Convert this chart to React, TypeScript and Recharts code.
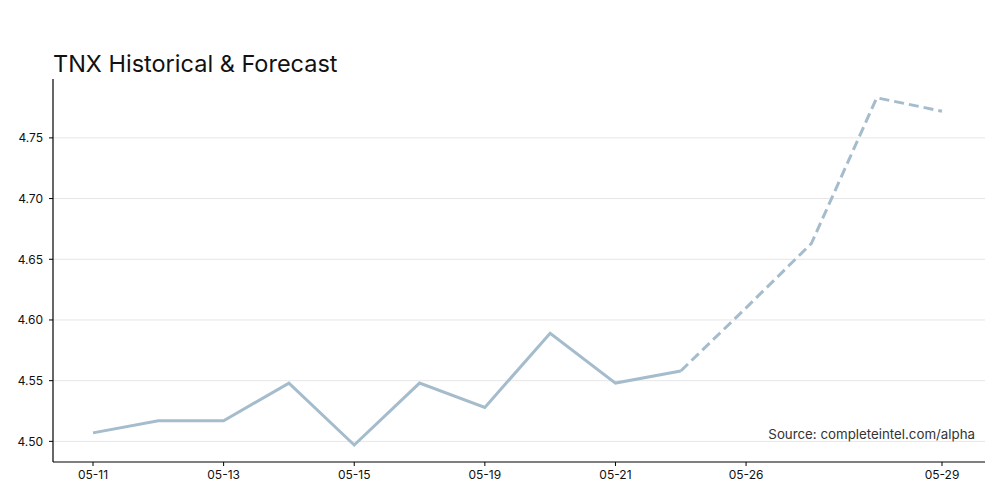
import React from 'react';
import { LineChart, Line, XAxis, YAxis, ReferenceLine } from 'recharts';

const dates = [
  '05-11', '05-12', '05-13', '05-14', '05-15', '05-16', '05-19',
  '05-20', '05-21', '05-22', '05-26', '05-27', '05-28', '05-29',
];
const historical = [4.507, 4.517, 4.517, 4.548, 4.497, 4.548, 4.528, 4.589, 4.548, 4.558];
// forecast starts at the last historical point
const forecast = [4.558, 4.61, 4.663, 4.783, 4.772];
const shownDates = ['05-11', '05-13', '05-15', '05-19', '05-21', '05-26', '05-29'];
const yTicks = [4.5, 4.55, 4.6, 4.65, 4.7, 4.75];

const LINE_COLOR = '#a5bccd';
const FONT = 'Inter, "Noto Sans", sans-serif';

const forecastStart = historical.length - 1;
const data = dates.map((d, i) => ({
  date: d,
  hist: i < historical.length ? historical[i] : null,
  fc: i >= forecastStart ? forecast[i - forecastStart] : null,
}));

const App = () => {
  return (
    <div style={{ position: 'absolute', left: 0, top: 0, width: 1000, height: 500, background: '#fff', fontFamily: FONT }}>
      <div style={{ position: 'absolute', left: 53, top: 49, fontSize: 23.5, color: '#111', lineHeight: '30px' }}>
        TNX Historical &amp; Forecast
      </div>
      <LineChart width={1000} height={500} data={data} margin={{ top: 79, right: 15, bottom: 8, left: 0 }}>
        {/* horizontal grid lines at the y ticks only */}
        {yTicks.map((t) => (
          <ReferenceLine key={t} y={t} stroke="#e6e6e6" strokeWidth={1} ifOverflow="extendDomain" />
        ))}
        <XAxis
          dataKey="date"
          ticks={shownDates}
          interval={0}
          padding={{ left: 40, right: 43 }}
          axisLine={{ stroke: '#000', strokeWidth: 1.2 }}
          tickLine={{ stroke: '#000' }}
          tickSize={4}
          tickMargin={4}
          tick={{ fill: '#111', fontSize: 12, fontFamily: FONT }}
          height={30}
        />
        <YAxis
          type="number"
          domain={[4.483, 4.7985]}
          ticks={yTicks}
          allowDataOverflow
          width={53}
          axisLine={{ stroke: '#000', strokeWidth: 1.2 }}
          tickLine={{ stroke: '#000' }}
          tickSize={4}
          tickMargin={6}
          tickFormatter={(v: number) => v.toFixed(2)}
          tick={{ fill: '#111', fontSize: 12, fontFamily: FONT }}
        />
        <Line
          type="linear"
          dataKey="hist"
          stroke={LINE_COLOR}
          strokeWidth={3}
          dot={false}
          activeDot={false}
          connectNulls={false}
          isAnimationActive={false}
        />
        <Line
          type="linear"
          dataKey="fc"
          stroke={LINE_COLOR}
          strokeWidth={3}
          strokeDasharray="10 5"
          dot={false}
          activeDot={false}
          connectNulls={false}
          isAnimationActive={false}
        />
      </LineChart>
      <div style={{ position: 'absolute', right: 25, top: 426, fontSize: 13.3, color: '#333' }}>
        Source: completeintel.com/alpha
      </div>
    </div>
  );
};

export default App;
